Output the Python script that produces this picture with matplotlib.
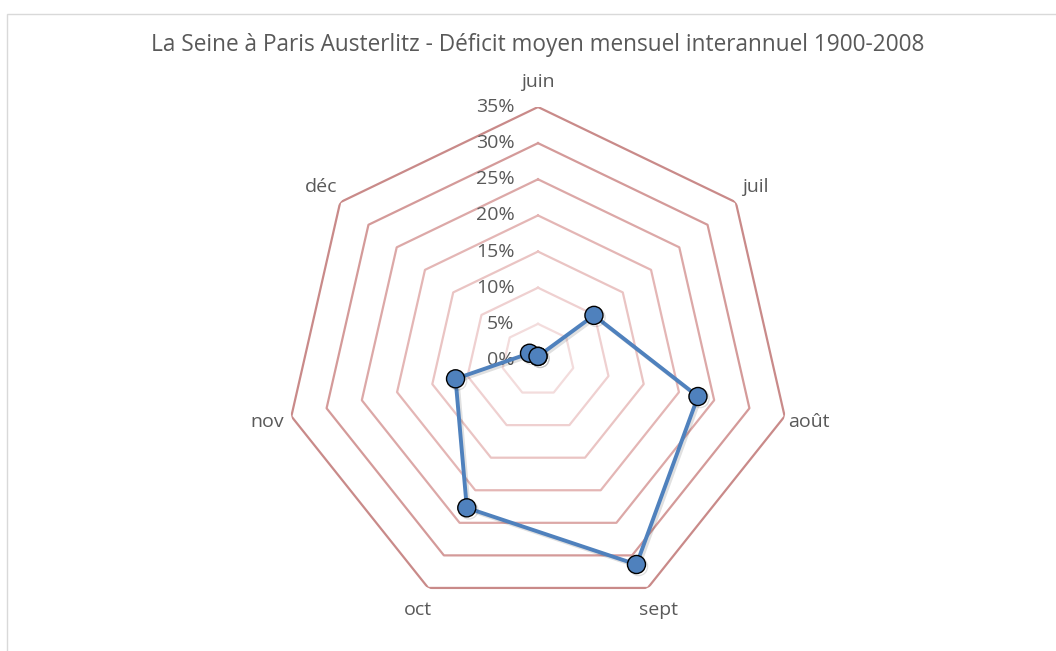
import numpy as np
import matplotlib
matplotlib.use("Agg")
from matplotlib import pyplot as plt
from matplotlib import patheffects as pe

plt.rcParams['font.family'] = ['Open Sans', 'DejaVu Sans']

mois = ['juin', 'juil', 'août', 'sept', 'oct', 'nov', 'déc']
deficit = [0.005, 0.099, 0.227, 0.314, 0.227, 0.117, 0.015]
niveaux = [0.05, 0.10, 0.15, 0.20, 0.25, 0.30, 0.35]
etiquettes = ['0%', '5%', '10%', '15%', '20%', '25%', '30%', '35%']
couleurs_grille = ['#f3dcdc', '#efd0d0', '#eac4c3', '#e4b6b5', '#dca8a7',
                   '#d49a99', '#c98a89']

W, H = 1056, 651
fig = plt.figure(figsize=(W / 100, H / 100), dpi=100)

# cadre gris de la zone graphique
fig.patches.append(plt.Rectangle((7 / W, -0.1), 1.2, 1 - 14 / H + 0.1,
                                 transform=fig.transFigure, fill=False,
                                 edgecolor='#d9d9d9', linewidth=1))

cx, cy, R = 538, 360, 253
ax = fig.add_axes([(cx - R) / W, (H - cy - R) / H, 2 * R / W, 2 * R / H],
                  projection='polar')
ax.set_theta_zero_location('N')
ax.set_theta_direction(-1)
ax.set_ylim(0, 0.35)
ax.axis('off')

n = len(mois)
angles = np.arange(n) * 2 * np.pi / n
ferme = np.append(angles, angles[0])

for niv, c in zip(niveaux, couleurs_grille):
    ax.plot(ferme, [niv] * (n + 1), color=c, lw=1.6, zorder=1)

vals = deficit + deficit[:1]
ax.plot(ferme, vals, color='#4f81bd', lw=2.8, marker='o', markersize=13,
        markerfacecolor='#4f81bd', markeredgecolor='black',
        markeredgewidth=1.0, zorder=3,
        path_effects=[pe.SimpleLineShadow(offset=(1.5, -1.5), alpha=0.12,
                                          shadow_color='black'),
                      pe.Normal()])

for a, m in zip(angles, mois):
    ax.text(a, 0.384, m, ha='center', va='center', fontsize=14,
            color='#595959')

for v, t in zip([0] + niveaux, etiquettes):
    ax.annotate(t, xy=(0, v), xytext=(-17, 0), textcoords='offset points',
                ha='right', va='center', fontsize=14, color='#595959',
                zorder=2)

fig.text(538 / W, 1 - 45 / H,
         'La Seine à Paris Austerlitz - Déficit moyen mensuel interannuel 1900-2008',
         ha='center', va='center', fontsize=16.3, color='#595959')

fig.savefig('out.png', dpi=100)
